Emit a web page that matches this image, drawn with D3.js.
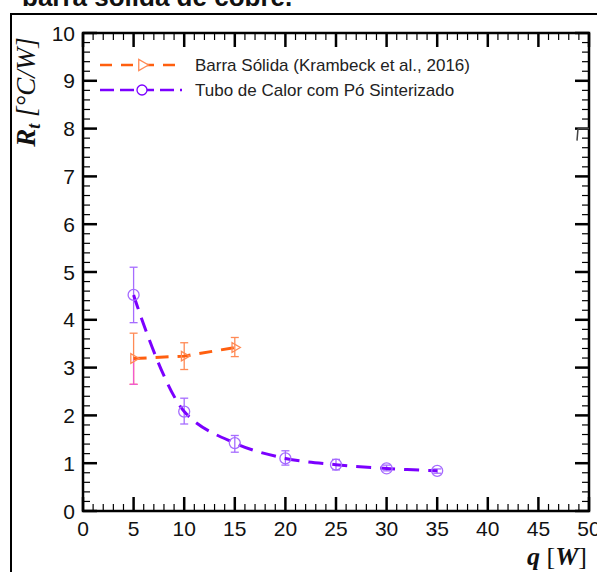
<!DOCTYPE html>
<html><head><meta charset="utf-8">
<script src="https://cdn.jsdelivr.net/npm/d3@7"></script>
<style>body{margin:0;background:#fff;} svg{display:block;}</style>
</head><body>
<script>
// ---- data ----
const qBarra = [5, 10, 15];
const rBarra = [3.19, 3.24, 3.42];
const rBarraLo = [2.65, 2.96, 3.23];
const rBarraHi = [3.72, 3.52, 3.63];

const qTubo = [5, 10, 15, 20, 25, 30, 35];
const rTubo = [4.52, 2.08, 1.42, 1.10, 0.97, 0.89, 0.84];
const rTuboLo = [3.94, 1.82, 1.23, 0.96, 0.86, 0.84, 0.79];
const rTuboHi = [5.10, 2.36, 1.58, 1.26, 1.08, 0.96, 0.88];

const xTicks = [0, 5, 10, 15, 20, 25, 30, 35, 40, 45, 50];
const yTicks = [0, 1, 2, 3, 4, 5, 6, 7, 8, 9, 10];
const legendLabels = ["Barra Sólida (Krambeck et al., 2016)", "Tubo de Calor com Pó Sinterizado"];
const titleText = "barra sólida de cobre.";

const W = 597, H = 572;
const L = 83, R = 589, T = 33, B = 511;
const orange = "#ff5f0f", orangeLight = "#ff8a55", pink = "#f15ad0";
const purple = "#7b00ff", purpleLight = "#a66cff";

const svg = d3.select("body").append("svg").attr("width", W).attr("height", H);

// title (cut off) and outer frame
svg.append("text").attr("x", 22).attr("y", 6).attr("font-family", "Liberation Sans, Arial, sans-serif")
  .attr("font-weight", "bold").attr("font-size", 26).attr("fill", "#111").text(titleText);
svg.append("rect").attr("x", 11).attr("y", 14).attr("width", 700).attr("height", 700)
  .attr("fill", "none").attr("stroke", "#000").attr("stroke-width", 2);

const x = d3.scaleLinear().domain([0, 50]).range([L, R]);
const y = d3.scaleLinear().domain([0, 10]).range([B, T]);

const tickFont = "Liberation Sans, Arial, sans-serif";

// minor / major ticks (inward) on all sides
const g = svg.append("g").attr("stroke", "#000");
const xMinor = d3.range(0, 51, 1);
const yMinor = d3.range(0, 10.01, 0.2);
xMinor.forEach(v => {
  const major = Math.round(v) % 5 === 0;
  const len = major ? 14 : 7;
  const sw = major ? 2.5 : 1.2;
  g.append("line").attr("x1", x(v)).attr("x2", x(v)).attr("y1", B).attr("y2", B - len).attr("stroke-width", sw);
  g.append("line").attr("x1", x(v)).attr("x2", x(v)).attr("y1", T).attr("y2", T + len).attr("stroke-width", sw);
});
yMinor.forEach(v => {
  const major = Math.abs(v - Math.round(v)) < 1e-6;
  const len = major ? 14 : 7;
  const sw = major ? 2.5 : 1.2;
  g.append("line").attr("x1", L).attr("x2", L + len).attr("y1", y(v)).attr("y2", y(v)).attr("stroke-width", sw);
  g.append("line").attr("x1", R).attr("x2", R - len).attr("y1", y(v)).attr("y2", y(v)).attr("stroke-width", sw);
});
svg.append("rect").attr("x", L).attr("y", T).attr("width", R - L).attr("height", B - T)
  .attr("fill", "none").attr("stroke", "#000").attr("stroke-width", 2.5);
// small artifact near right axis at y=8
svg.append("path").attr("d", `M${R - 11},${y(8)} L${R},${y(8)} M${R - 11},${y(8)} L${R - 12},${y(8) + 12}`)
  .attr("stroke", "#444").attr("stroke-width", 1.5).attr("fill", "none");

// tick labels
svg.append("g").selectAll("text").data(xTicks).join("text")
  .attr("x", d => x(d)).attr("y", 536).attr("text-anchor", "middle")
  .attr("font-family", tickFont).attr("font-size", 21).attr("fill", "#111").text(d => d);
svg.append("g").selectAll("text").data(yTicks).join("text")
  .attr("x", 75).attr("y", d => y(d)).attr("dy", "0.36em").attr("text-anchor", "end")
  .attr("font-family", tickFont).attr("font-size", 21).attr("fill", "#111").text(d => d);

// axis titles
const serif = "Liberation Serif, Times New Roman, serif";
const yl = svg.append("text").attr("transform", "translate(35,92) rotate(-90)").attr("text-anchor", "middle")
  .attr("font-family", serif).attr("font-size", 27).attr("font-style", "italic").attr("fill", "#111");
yl.append("tspan").attr("font-weight", "bold").text("R");
yl.append("tspan").attr("font-weight", "bold").attr("font-size", 18).attr("dy", 5).text("t");
yl.append("tspan").attr("dy", -5).text(" [°C/W]");
const xl = svg.append("text").attr("x", 587).attr("y", 565).attr("text-anchor", "end")
  .attr("font-family", serif).attr("font-size", 26).attr("font-style", "italic").attr("fill", "#111");
xl.append("tspan").attr("font-weight", "bold").text("q");
xl.append("tspan").attr("font-style", "normal").text(" [");
xl.append("tspan").attr("font-weight", "bold").text("W");
xl.append("tspan").attr("font-style", "normal").text("]");

// error bars
function errBars(xs, lo, hi, color) {
  const eg = svg.append("g").attr("stroke", color).attr("stroke-width", 1.3).attr("fill", "none");
  xs.forEach((xv, i) => {
    eg.append("line").attr("x1", x(xv)).attr("x2", x(xv)).attr("y1", y(lo[i])).attr("y2", y(hi[i]));
    eg.append("line").attr("x1", x(xv) - 4).attr("x2", x(xv) + 4).attr("y1", y(lo[i])).attr("y2", y(lo[i]));
    eg.append("line").attr("x1", x(xv) - 4).attr("x2", x(xv) + 4).attr("y1", y(hi[i])).attr("y2", y(hi[i]));
  });
}
errBars(qTubo, rTuboLo, rTuboHi, purpleLight);
errBars(qBarra, rBarraLo, rBarraHi, orangeLight);
// lower part of the first orange error bar appears pink
svg.append("line").attr("x1", x(qBarra[0])).attr("x2", x(qBarra[0])).attr("y1", y(rBarra[0])).attr("y2", y(rBarraLo[0]))
  .attr("stroke", pink).attr("stroke-width", 1.3);
svg.append("line").attr("x1", x(qBarra[0]) - 4).attr("x2", x(qBarra[0]) + 4).attr("y1", y(rBarraLo[0])).attr("y2", y(rBarraLo[0]))
  .attr("stroke", pink).attr("stroke-width", 1.3);

// lines
const lineGen = d3.line().x(d => x(d[0])).y(d => y(d[1])).curve(d3.curveCatmullRom.alpha(0.5));
svg.append("path").datum(qTubo.map((q, i) => [q, rTubo[i]])).attr("d", lineGen)
  .attr("fill", "none").attr("stroke", purple).attr("stroke-width", 3).attr("stroke-dasharray", "15,9");
svg.append("path").datum(qBarra.map((q, i) => [q, rBarra[i]])).attr("d", d3.line().x(d => x(d[0])).y(d => y(d[1])))
  .attr("fill", "none").attr("stroke", orange).attr("stroke-width", 3).attr("stroke-dasharray", "13,9");

// markers
svg.append("g").selectAll("circle").data(qTubo).join("circle")
  .attr("cx", d => x(d)).attr("cy", (d, i) => y(rTubo[i])).attr("r", 5.5)
  .attr("fill", "none").attr("stroke", purpleLight).attr("stroke-width", 1.3);
const tri = d3.symbol().type(d3.symbolTriangle).size(40);
svg.append("g").selectAll("path").data(qBarra).join("path")
  .attr("transform", (d, i) => `translate(${x(d)},${y(rBarra[i])}) rotate(90)`).attr("d", tri)
  .attr("fill", "none").attr("stroke", orangeLight).attr("stroke-width", 1.3);

// legend
const legY = [65, 90];
const lg = svg.append("g");
lg.append("line").attr("x1", 100).attr("x2", 182).attr("y1", legY[0]).attr("y2", legY[0])
  .attr("stroke", orange).attr("stroke-width", 2.5).attr("stroke-dasharray", "12,9");
lg.append("path").attr("transform", `translate(142,${legY[0]}) rotate(90)`).attr("d", d3.symbol().type(d3.symbolTriangle).size(55))
  .attr("fill", "#fff").attr("stroke", orangeLight).attr("stroke-width", 1.3);
lg.append("line").attr("x1", 100).attr("x2", 182).attr("y1", legY[1]).attr("y2", legY[1])
  .attr("stroke", purple).attr("stroke-width", 2.5).attr("stroke-dasharray", "14,6");
lg.append("circle").attr("cx", 142).attr("cy", legY[1]).attr("r", 5)
  .attr("fill", "#fff").attr("stroke", purple).attr("stroke-width", 1.3);
lg.selectAll("text").data(legendLabels).join("text")
  .attr("x", 195).attr("y", (d, i) => legY[i]).attr("dy", "0.36em")
  .attr("font-family", tickFont).attr("font-size", 17).attr("fill", "#222").text(d => d);
</script>
</body></html>
